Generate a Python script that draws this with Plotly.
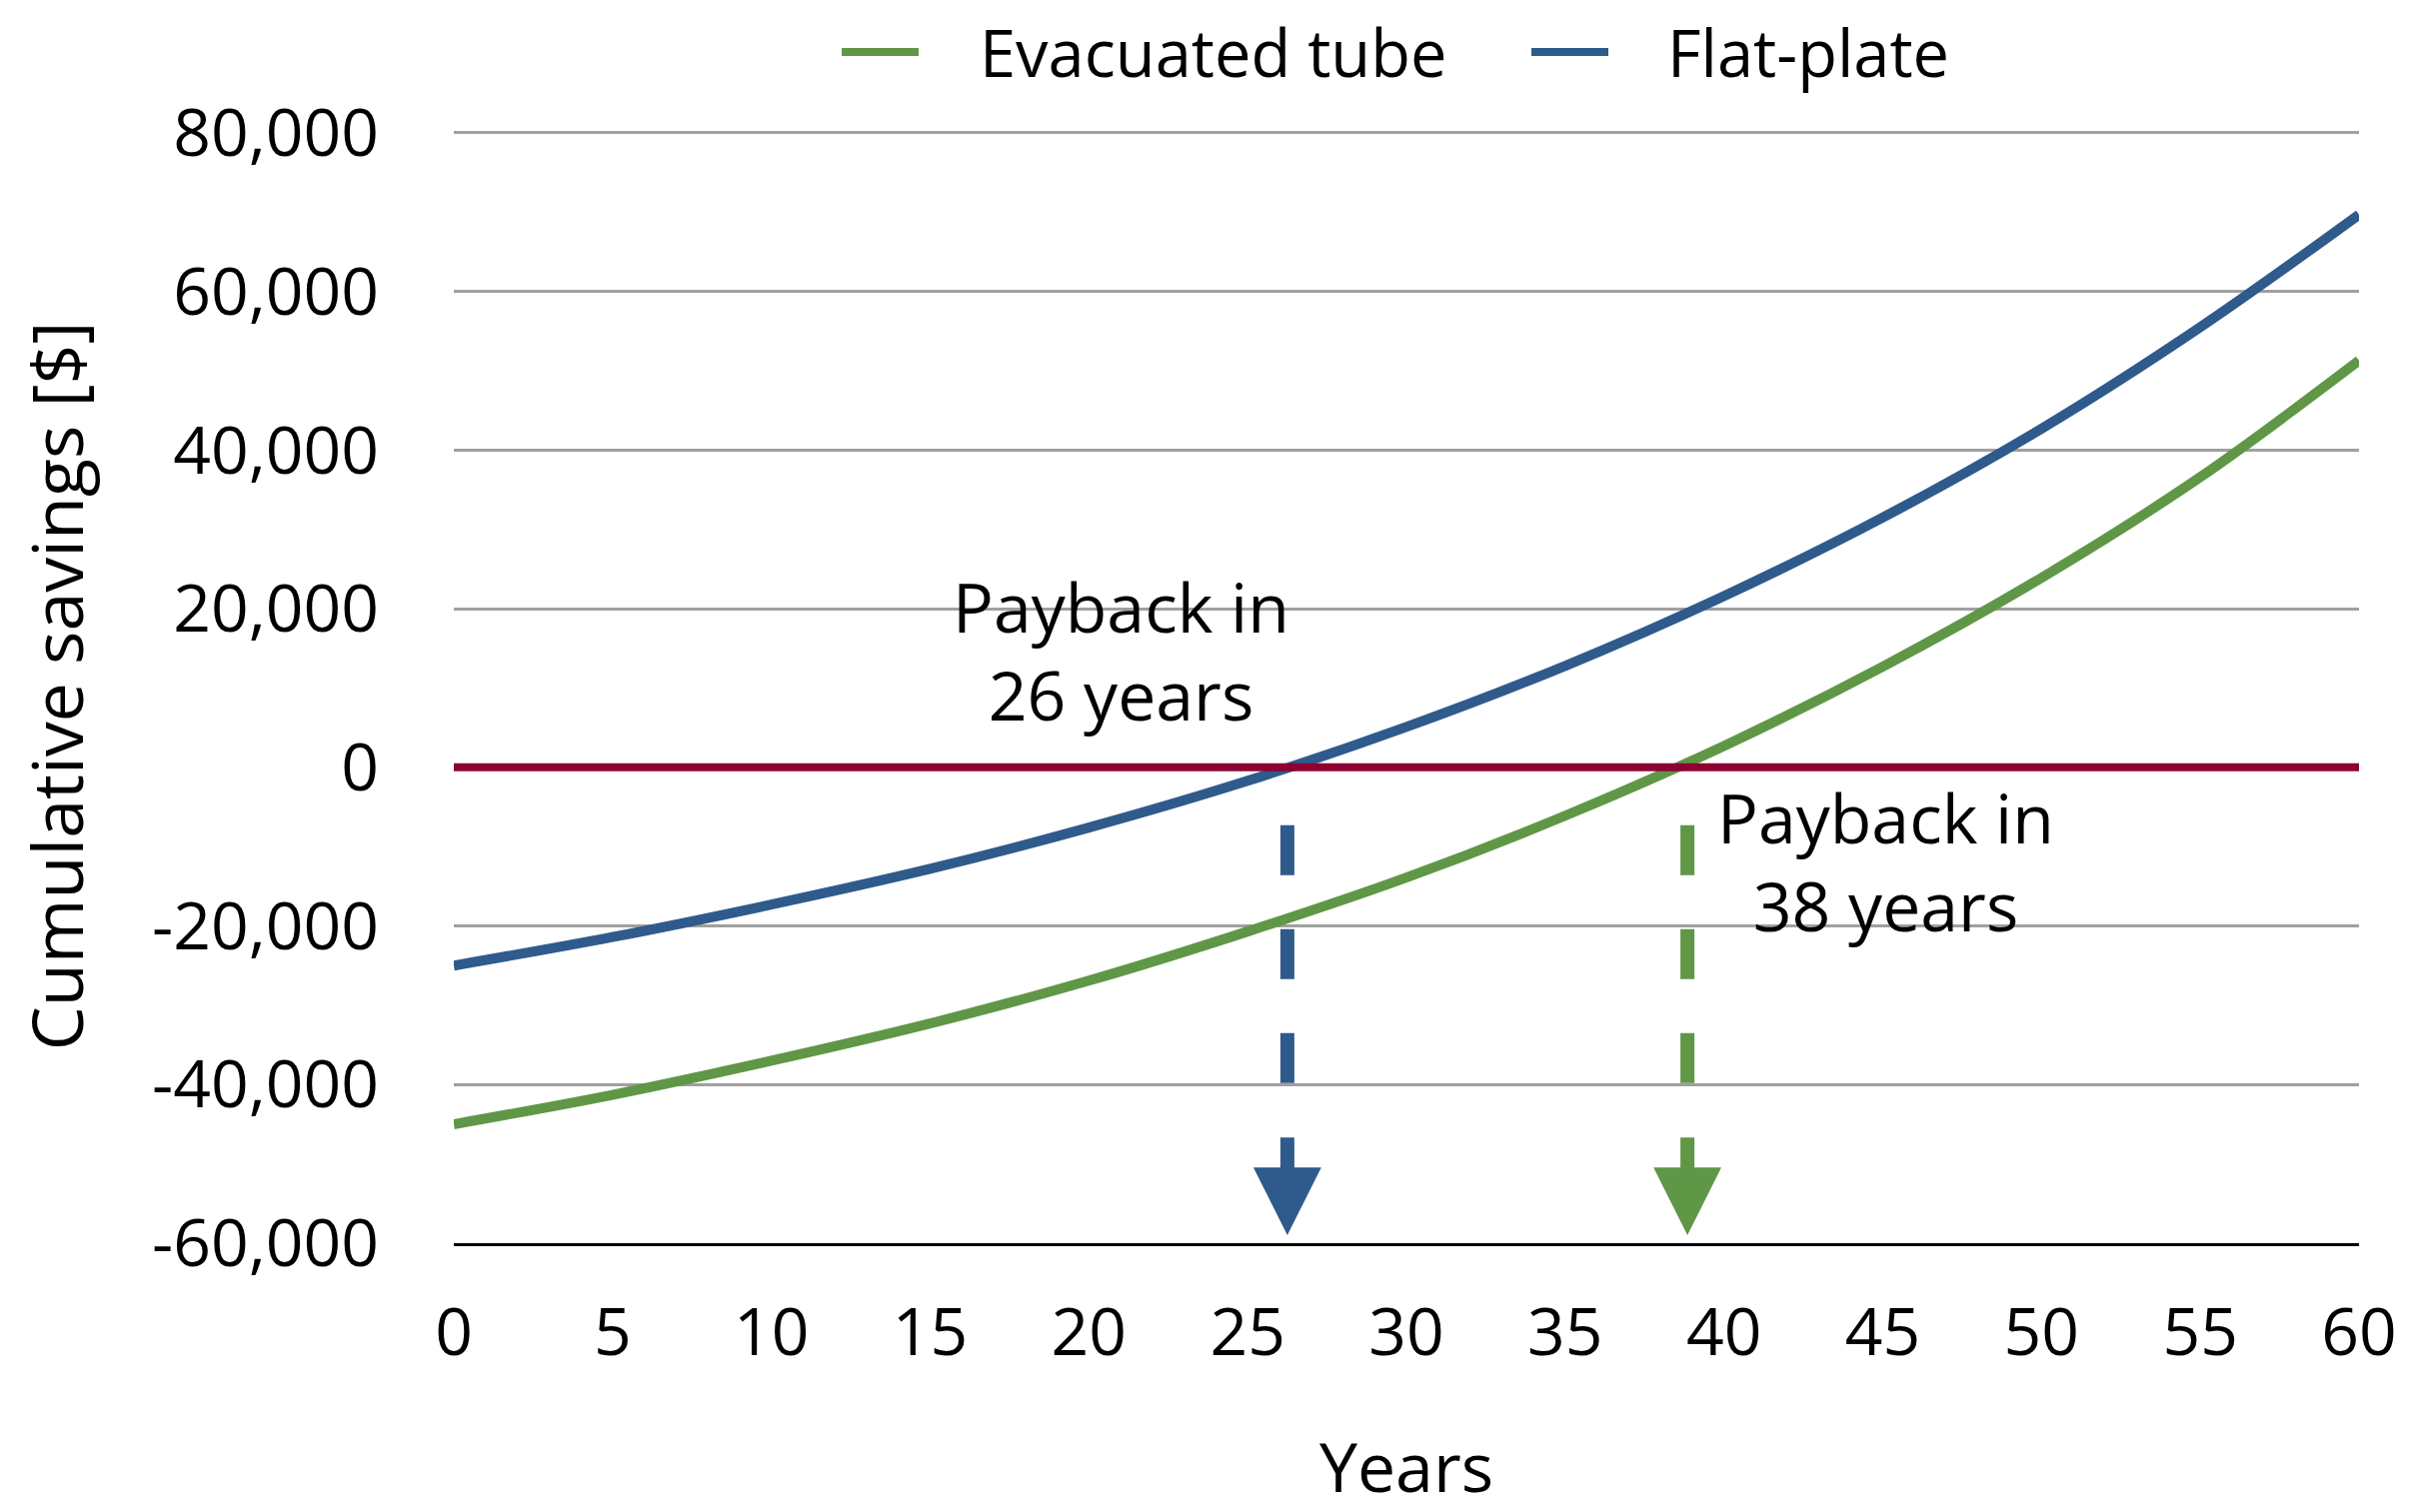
import plotly.graph_objects as go

# values
years = [0, 5, 10, 15, 20, 25, 30, 35, 40, 45, 50, 55, 60]
evacuated_tube = [-45000, -41300, -37000, -32300, -26900, -20700, -13900,
                  -6100, 2700, 12700, 23900, 36600, 51300]
flat_plate = [-25000, -21400, -17300, -12800, -7600, -1700, 5100,
              12800, 21600, 31500, 42700, 55500, 69700]

y_ticks = [-60000, -40000, -20000, 0, 20000, 40000, 60000, 80000]
y_ticktext = [f"{v:,}" for v in y_ticks]

payback_x = [26.25, 38.85]
payback_labels = ["26", "38"]
text_pos = [(21.0, 14800), (45.1, -11800)]

dash_top = -7300
dash_bottom = -39800
shaft_top = -46500
arrow_tip = -59000

GREEN = "#5F9747"
BLUE = "#2F5A8C"
RED = "#8C0032"
FONT = "Open Sans"
series = [("Evacuated tube", evacuated_tube, GREEN), ("Flat-plate", flat_plate, BLUE)]
payback_colors = [BLUE, GREEN]

fig = go.Figure()
for name, vals, col in series:
    fig.add_trace(go.Scatter(x=years, y=vals, name=name, mode="lines",
                             line=dict(color=col, width=10, shape="spline"),
                             showlegend=False))

shapes = []
annotations = []

# zero line sits on top of the curves
shapes.append(dict(type="line", xref="x", yref="y", x0=-0.25, x1=60, y0=0, y1=0,
                   line=dict(color=RED, width=8), layer="above"))

for px_, lab, col, (tx, ty) in zip(payback_x, payback_labels, payback_colors, text_pos):
    shapes.append(dict(type="line", xref="x", yref="y", x0=px_, x1=px_,
                       y0=dash_top, y1=dash_bottom,
                       line=dict(color=col, width=14, dash="50px,54px"), layer="above"))
    annotations.append(dict(x=px_, y=arrow_tip, ax=px_, ay=shaft_top,
                            xref="x", yref="y", axref="x", ayref="y",
                            showarrow=True, arrowhead=2, arrowsize=0.97,
                            arrowwidth=14, arrowcolor=col, text=""))
    annotations.append(dict(x=tx, y=ty, xref="x", yref="y", showarrow=False,
                            text="Payback in<br>" + lab + " years",
                            font=dict(family=FONT, size=68, color="black"),
                            align="center"))

# hand-made legend so the swatches are as long as in the original
legend_swatch_x = [(0.2036, 0.2440), (0.5656, 0.6060)]
legend_text_x = [0.2749, 0.6359]
legend_y = 1.0691
for (name, _, col), (x0, x1), tx in zip(series, legend_swatch_x, legend_text_x):
    shapes.append(dict(type="line", xref="paper", yref="paper", x0=x0, x1=x1,
                       y0=legend_y, y1=legend_y, line=dict(color=col, width=8)))
    annotations.append(dict(x=tx, y=legend_y, xref="paper", yref="paper",
                            xanchor="left", yanchor="middle", showarrow=False,
                            text=name, font=dict(family=FONT, size=65, color="black")))

# page body has an 8px margin, so the figure is 8px smaller each way
fig.update_layout(
    width=2406, height=1505,
    margin=dict(l=446, r=54, t=121, b=269, autoexpand=False),
    paper_bgcolor="white", plot_bgcolor="white",
    font=dict(family=FONT, size=66, color="black"),
    shapes=shapes,
    annotations=annotations,
    showlegend=False,
)

fig.update_xaxes(range=[0, 60], tickvals=years, showgrid=False, zeroline=False,
                 showline=True, linecolor="black", linewidth=3,
                 ticks="", ticklabelstandoff=30, tickfont=dict(size=66),
                 title=dict(text="Years", standoff=84, font=dict(size=68)))
fig.update_yaxes(range=[-60000, 80500], tickvals=y_ticks, ticktext=y_ticktext,
                 showgrid=True, gridcolor="#A0A0A0", gridwidth=3, zeroline=False,
                 ticks="", ticklabelstandoff=74, tickfont=dict(size=66),
                 title=dict(text="Cumulative savings [$]", standoff=72, font=dict(size=70)))

fig.write_html("out.html")
